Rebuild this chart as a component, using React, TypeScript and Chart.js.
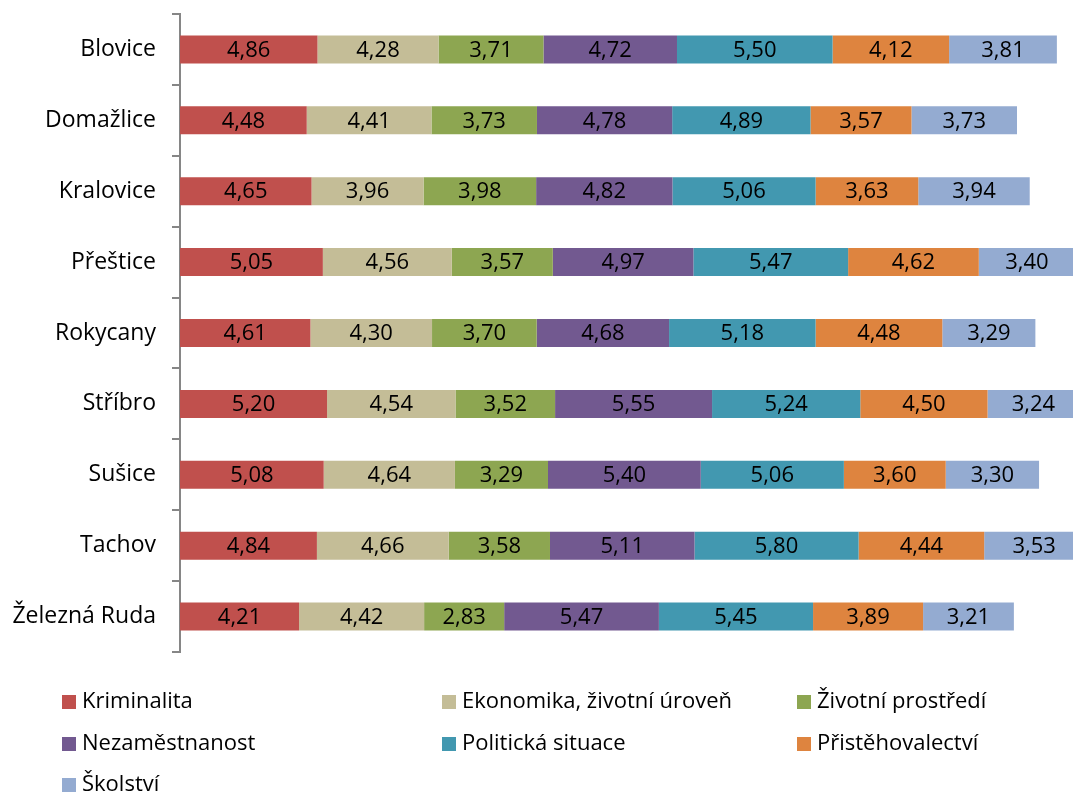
import React, { useEffect, useRef } from "react";
import { Chart, registerables } from "chart.js";

Chart.register(...registerables);

const categories = ["Blovice", "Domažlice", "Kralovice", "Přeštice", "Rokycany", "Stříbro", "Sušice", "Tachov", "Železná Ruda"];
const seriesNames = ["Kriminalita", "Ekonomika, životní úroveň", "Životní prostředí", "Nezaměstnanost", "Politická situace", "Přistěhovalectví", "Školství"];
const kriminalita = [4.86, 4.48, 4.65, 5.05, 4.61, 5.2, 5.08, 4.84, 4.21];
const ekonomika = [4.28, 4.41, 3.96, 4.56, 4.3, 4.54, 4.64, 4.66, 4.42];
const prostredi = [3.71, 3.73, 3.98, 3.57, 3.7, 3.52, 3.29, 3.58, 2.83];
const nezamestnanost = [4.72, 4.78, 4.82, 4.97, 4.68, 5.55, 5.4, 5.11, 5.47];
const politicka = [5.5, 4.89, 5.06, 5.47, 5.18, 5.24, 5.06, 5.8, 5.45];
const pristehovalectvi = [4.12, 3.57, 3.63, 4.62, 4.48, 4.5, 3.6, 4.44, 3.89];
const skolstvi = [3.81, 3.73, 3.94, 3.4, 3.29, 3.24, 3.3, 3.53, 3.21];
const colors = ["#C0504D", "#C4BD97", "#8DA651", "#725990", "#4298B0", "#DE843F", "#94ABD1"];
const xMax = 31.57;

const FONT = "'Open Sans', 'Noto Sans', sans-serif";

const valueLabels = {
  id: "valueLabels",
  afterDatasetsDraw(chart: any) {
    const ctx = chart.ctx;
    ctx.save();
    ctx.font = `22px ${FONT}`;
    ctx.fillStyle = "#000";
    ctx.textAlign = "center";
    ctx.textBaseline = "middle";
    chart.data.datasets.forEach((ds: any, di: number) => {
      const meta = chart.getDatasetMeta(di);
      meta.data.forEach((bar: any, i: number) => {
        const v = ds.data[i];
        const left = Math.min(bar.x, bar.base);
        const right = Math.max(bar.x, bar.base);
        const cx = (left + right) / 2;
        ctx.fillText(v.toFixed(2).replace(".", ","), cx, bar.y + 1);
      });
    });
    ctx.restore();
  },
};

const gridLegend = {
  id: "gridLegend",
  afterDraw(chart: any) {
    const ctx = chart.ctx;
    ctx.save();
    ctx.font = `22px ${FONT}`;
    ctx.textBaseline = "middle";
    ctx.textAlign = "left";
    const cols = [62, 442, 797];
    const rows = [702, 744, 785];
    seriesNames.forEach((name, i) => {
      const x = cols[i % 3];
      const y = rows[Math.floor(i / 3)];
      ctx.fillStyle = colors[i];
      ctx.fillRect(x, y - 7, 14, 14);
      ctx.fillStyle = "#000";
      ctx.fillText(name, x + 20, y);
    });
    ctx.restore();
  },
};

export default function App() {
  const ref = useRef<HTMLCanvasElement | null>(null);
  useEffect(() => {
    if (!ref.current) return;
    const series = [kriminalita, ekonomika, prostredi, nezamestnanost, politicka, pristehovalectvi, skolstvi];
    const chart = new Chart(ref.current, {
      type: "bar",
      data: {
        labels: categories,
        datasets: series.map((d, i) => ({
          label: seriesNames[i],
          data: d,
          backgroundColor: colors[i],
          borderWidth: 0,
          categoryPercentage: 1,
          barPercentage: 0.395,
        })),
      },
      options: {
        indexAxis: "y",
        animation: false,
        responsive: false,
        layout: { padding: { top: 14, bottom: 142, left: 0, right: 0 } },
        plugins: { legend: { display: false }, tooltip: { enabled: false } },
        scales: {
          x: { stacked: true, display: false, min: 0, max: xMax },
          y: {
            stacked: true,
            afterFit(scale: any) {
              scale.width = 180;
              scale.paddingTop = 0;
              scale.paddingBottom = 0;
            },
            grid: {
              offset: true,
              drawOnChartArea: false,
              tickLength: 8,
              color: "#868686",
              lineWidth: 2,
            },
            border: { display: true, color: "#868686", width: 2 },
            ticks: {
              color: "#000",
              font: { family: FONT, size: 23 },
              padding: 16,
            },
          },
        },
      },
      plugins: [valueLabels, gridLegend],
    });
    return () => chart.destroy();
  }, []);
  return (
    <div style={{ position: "fixed", left: 0, top: 0, width: 1073, height: 794, background: "#fff" }}>
      <canvas ref={ref} width={1073} height={794} style={{ display: "block" }} />
    </div>
  );
}
